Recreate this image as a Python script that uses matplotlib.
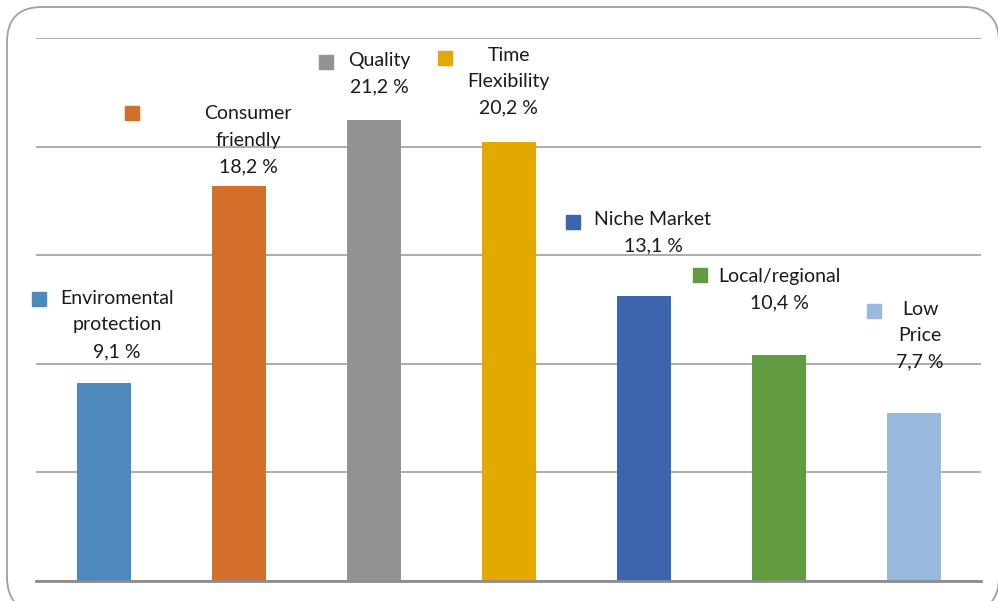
import matplotlib.pyplot as plt
from matplotlib.patches import FancyBboxPatch

# Survey shares by motivation
categories = ["Enviromental\nprotection", "Consumer\nfriendly", "Quality",
              "Time\nFlexibility", "Niche Market", "Local/regional", "Low\nPrice"]
values = [9.1, 18.2, 21.2, 20.2, 13.1, 10.4, 7.7]
value_labels = ["9,1 %", "18,2 %", "21,2 %", "20,2 %", "13,1 %", "10,4 %", "7,7 %"]
colors = ["#4E89BD", "#D46E2B", "#939393", "#E2AA00", "#3C65AD", "#629B3F", "#99B9DF"]

# Label layout (data coordinates): text centre x, first-line y, legend-square x/y
label_x = [0.10, 1.07, 2.04, 3.00, 4.07, 5.01, 6.05]
label_y = [13.0, 21.5, 23.95, 24.2, 16.65, 14.0, 12.5]
square_x = [-0.48, 0.21, 1.65, 2.53, 3.48, 4.42, 5.71]
square_y = [12.95, 21.55, 23.9, 24.1, 16.5, 14.1, 12.4]

plt.rcParams['font.family'] = ['Lato', 'DejaVu Sans']

fig = plt.figure(figsize=(9.98, 6.01), dpi=100)
ax = fig.add_axes([36 / 998, 1 - 580.5 / 601, (981 - 36) / 998, (580.5 - 38) / 601])

x = range(len(values))
ax.bar(x, values, width=0.4, color=colors, zorder=3)

ax.set_xlim(-0.5, len(values) - 0.5)
ax.set_ylim(0, 25)
ax.set_yticks(range(0, 26, 5))
ax.yaxis.grid(True, color="#A6A6A6", linewidth=1.3, zorder=0)
ax.tick_params(left=False, bottom=False, labelleft=False, labelbottom=False)
for side in ["left", "right", "top"]:
    ax.spines[side].set_visible(False)
ax.spines["bottom"].set_color("#8C8C8C")
ax.spines["bottom"].set_linewidth(2.0)
ax.spines["bottom"].set_zorder(4)

line_h = 26.5 / 21.7  # one text line in data units
for i in range(len(values)):
    lines = categories[i].split("\n") + [value_labels[i]]
    for k, t in enumerate(lines):
        ax.text(label_x[i], label_y[i] - k * line_h, t, ha="center", va="center",
                fontsize=14, color="#1a1a1a", zorder=5)
    ax.plot(square_x[i], square_y[i], marker="s", markersize=10.5,
            color=colors[i], linestyle="none", zorder=5, clip_on=False)

# rounded frame around the chart area
frame = FancyBboxPatch((7 / 998, 1 - 612 / 601), (999 - 7) / 998, (612 - 7) / 601,
                       boxstyle="round,pad=0,rounding_size=0.035",
                       transform=fig.transFigure, facecolor="none",
                       edgecolor="#A0A0A0", linewidth=1.3, mutation_aspect=998 / 601)
fig.patches.append(frame)

fig.savefig("out.png", dpi=100)
